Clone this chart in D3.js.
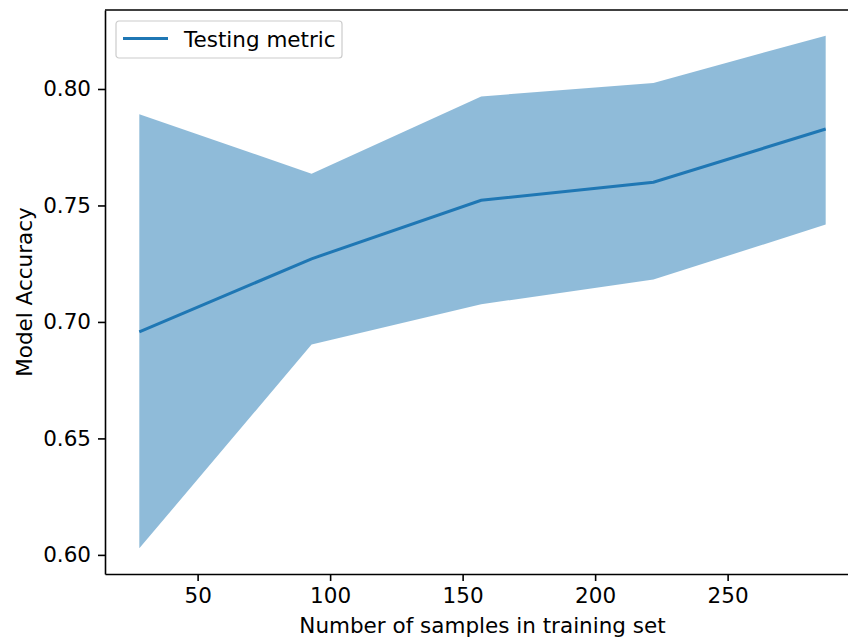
<!DOCTYPE html>
<html>
<head>
<meta charset="utf-8">
<script src="https://cdn.jsdelivr.net/npm/d3@7"></script>
<style>
  body { margin: 0; background: #fff; }
  svg { display: block; font-family: "DejaVu Sans", sans-serif; }
</style>
</head>
<body>
<div id="my_dataviz"></div>
<script>
// training set sizes and test scores (mean +/- std)
const trainSizes = [28, 93, 157, 222, 287];
const meanScore = [0.6957, 0.7271, 0.7522, 0.7600, 0.7828];
const upperScore = [0.7892, 0.7636, 0.7968, 0.8026, 0.8229];
const lowerScore = [0.6028, 0.6903, 0.7076, 0.7182, 0.7418];
const xTicks = [50, 100, 150, 200, 250];
const yTicks = [0.60, 0.65, 0.70, 0.75, 0.80];

const fontSize = 21.5;

const margin = { top: 10, right: -12, bottom: 66, left: 105 },
      width = 848 - margin.left - margin.right,
      height = 640 - margin.top - margin.bottom;

const svg = d3.select("#my_dataviz")
  .append("svg")
  .attr("width", 848)
  .attr("height", 640)
  .append("g")
  .attr("transform", `translate(${margin.left},${margin.top})`);

const data = trainSizes.map((d, i) => ({
  n: d, mean: meanScore[i], hi: upperScore[i], lo: lowerScore[i]
}));

// matplotlib-like 5% margins
const xr = d3.max(trainSizes) - d3.min(trainSizes);
const x = d3.scaleLinear()
  .domain([d3.min(trainSizes) - 0.05 * xr, d3.max(trainSizes) + 0.05 * xr])
  .range([0, width]);

const yr = d3.max(upperScore) - d3.min(lowerScore);
const y = d3.scaleLinear()
  .domain([d3.min(lowerScore) - 0.05 * yr, d3.max(upperScore) + 0.05 * yr])
  .range([height, 0]);

// band
const area = d3.area()
  .x(d => x(d.n))
  .y0(d => y(d.lo))
  .y1(d => y(d.hi));

svg.append("path")
  .datum(data)
  .attr("fill", "#1f77b4")
  .attr("fill-opacity", 0.5)
  .attr("d", area);

// mean line
const line = d3.line()
  .x(d => x(d.n))
  .y(d => y(d.mean));

svg.append("path")
  .datum(data)
  .attr("fill", "none")
  .attr("stroke", "#1f77b4")
  .attr("stroke-width", 3)
  .attr("d", line);

// axes
const xAxis = svg.append("g")
  .attr("transform", `translate(0,${height})`)
  .call(d3.axisBottom(x).tickValues(xTicks).tickSize(7).tickPadding(7).tickSizeOuter(0));

const yAxis = svg.append("g")
  .call(d3.axisLeft(y).tickValues(yTicks).tickFormat(d3.format(".2f")).tickSize(7).tickPadding(7).tickSizeOuter(0));

[xAxis, yAxis].forEach(g => {
  g.selectAll("text").attr("font-size", fontSize).attr("fill", "#000").attr("font-family", "DejaVu Sans");
  g.selectAll("line").attr("stroke", "#000").attr("stroke-width", 1.6);
  g.select(".domain").attr("stroke", "#000").attr("stroke-width", 1.6);
});

// top and right spines
svg.append("line")
  .attr("x1", 0).attr("x2", width)
  .attr("y1", 0).attr("y2", 0)
  .attr("stroke", "#000").attr("stroke-width", 1.6);
svg.append("line")
  .attr("x1", width).attr("x2", width)
  .attr("y1", 0).attr("y2", height)
  .attr("stroke", "#000").attr("stroke-width", 1.6);

// axis labels
svg.append("text")
  .attr("x", (x.range()[0] + x.range()[1]) / 2)
  .attr("y", height + 59)
  .attr("text-anchor", "middle")
  .attr("font-size", fontSize)
  .text("Number of samples in training set");

svg.append("text")
  .attr("transform", `translate(${-73},${height / 2}) rotate(-90)`)
  .attr("text-anchor", "middle")
  .attr("font-size", fontSize)
  .text("Model Accuracy");

// legend
const legend = svg.append("g").attr("transform", "translate(11,11)");
legend.append("rect")
  .attr("width", 226)
  .attr("height", 37)
  .attr("rx", 3)
  .attr("fill", "#fff")
  .attr("fill-opacity", 0.8)
  .attr("stroke", "#cccccc")
  .attr("stroke-width", 1.2);
legend.append("line")
  .attr("x1", 7).attr("x2", 52)
  .attr("y1", 17.5).attr("y2", 17.5)
  .attr("stroke", "#1f77b4")
  .attr("stroke-width", 3);
legend.append("text")
  .attr("x", 68)
  .attr("y", 25.5)
  .attr("font-size", fontSize)
  .text("Testing metric");
</script>
</body>
</html>
